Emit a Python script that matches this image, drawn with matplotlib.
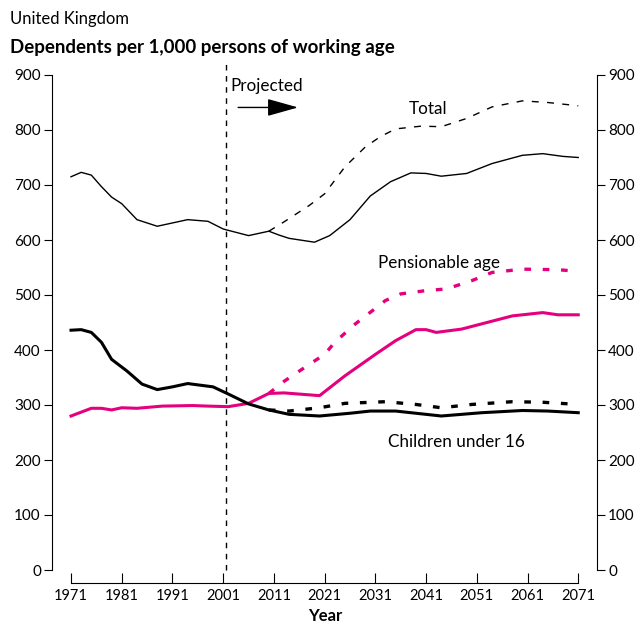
import matplotlib
matplotlib.use("Agg")
import matplotlib.pyplot as plt

plt.rcParams['font.family'] = ['Lato', 'DejaVu Sans']
plt.rcParams['font.size'] = 12

magenta = '#e5007d'

# Total, projected variant 1 (solid) and 2 (dashed)
total_years = [1971, 1973, 1975, 1977, 1979, 1981, 1984, 1988, 1991, 1994, 1998, 2001, 2006,
               2010, 2012, 2014, 2019, 2022, 2026, 2030, 2034, 2038, 2041, 2044, 2049, 2054,
               2060, 2064, 2068, 2071]
total_vals = [715, 723, 718, 697, 678, 666, 637, 625, 631, 637, 634, 620, 608,
              616, 609, 603, 596, 608, 637, 680, 706, 722, 721, 716, 721, 739,
              754, 757, 752, 750]
total_dash_years = [2010, 2013, 2018, 2021, 2025, 2029, 2032, 2035, 2040, 2044, 2049, 2054,
                    2060, 2065, 2071]
total_dash_vals = [616, 633, 663, 684, 733, 769, 788, 802, 807, 806, 821, 842,
                   853, 850, 844]

# Pensionable age
pens_years = [1971, 1975, 1977, 1979, 1981, 1984, 1989, 1995, 1998, 2002, 2006, 2010, 2013,
              2020, 2025, 2031, 2035, 2039, 2041, 2043, 2048, 2053, 2058, 2064, 2067, 2071]
pens_vals = [280, 294, 294, 291, 295, 294, 298, 299, 298, 297, 303, 321, 322,
             317, 353, 392, 417, 437, 437, 432, 438, 450, 462, 468, 464, 464]
pens_dash_years = [2010, 2013, 2018, 2021, 2023, 2027, 2033, 2036, 2041, 2045, 2050, 2054,
                   2060, 2067, 2071]
pens_dash_vals = [321, 343, 374, 392, 414, 447, 490, 502, 508, 511, 526, 541,
                  547, 546, 543]

# Children under 16
child_years = [1971, 1973, 1975, 1977, 1979, 1982, 1985, 1988, 1991, 1994, 1999, 2002, 2006,
               2010, 2014, 2020, 2026, 2030, 2035, 2044, 2052, 2060, 2065, 2071]
child_vals = [436, 437, 432, 414, 383, 362, 338, 328, 333, 339, 333, 320, 302,
              291, 283, 280, 285, 289, 289, 280, 286, 290, 289, 286]
child_dash_years = [2010, 2014, 2020, 2025, 2033, 2039, 2044, 2050, 2058, 2064, 2071]
child_dash_vals = [291, 289, 295, 303, 306, 301, 295, 301, 306, 305, 301]

xticks = list(range(1971, 2072, 10))
yticks = list(range(0, 901, 100))

fig = plt.figure(figsize=(6.37, 6.24), dpi=100)
ax = fig.add_axes([52 / 637, 54 / 624, 545 / 637, 495 / 624])

ax.plot(total_years, total_vals, color='black', lw=1.0)
ax.plot(total_dash_years, total_dash_vals, color='black', lw=1.0, dashes=(5, 6))
ax.plot(pens_years, pens_vals, color=magenta, lw=2.2)
ax.plot(pens_dash_years, pens_dash_vals, color=magenta, lw=2.4, dashes=(2, 3.5))
ax.plot(child_years, child_vals, color='black', lw=2.2)
ax.plot(child_dash_years, child_dash_vals, color='black', lw=2.4, dashes=(2, 3.5))

# projection start marker
ax.plot([2001.6, 2001.6], [0, 925], color='black', lw=1.0, dashes=(4, 4), clip_on=False)
ax.text(2002.4, 880, 'Projected', ha='left', va='center', fontsize=12.3)
ax.annotate('', xy=(2016.3, 841), xytext=(2003.4, 841),
            arrowprops=dict(arrowstyle='-|>,head_length=1.6,head_width=0.45',
                            color='black', lw=1.0))

ax.text(2037.5, 839, 'Total', ha='left', va='center', fontsize=12.3)
ax.text(2031.6, 558, 'Pensionable age', ha='left', va='center', fontsize=12.3)
ax.text(2033.5, 232, 'Children under 16', ha='left', va='center', fontsize=12.3)

ax.set_xlim(1967.25, 2074.7)
ax.set_ylim(0, 900)
ax.set_xticks(xticks)
ax.set_yticks(yticks)

ax.spines['top'].set_visible(False)
ax.spines['bottom'].set_position(('outward', 9))
ax.spines['bottom'].set_bounds(1971, 2071)
ax.tick_params(axis='x', direction='in', length=7, pad=5, labelsize=10.5)
ax.tick_params(axis='y', direction='out', length=6, pad=2, labelsize=11,
               right=True, labelright=True)

fig.text(10 / 637, 1 - 19 / 624, 'United Kingdom', ha='left', va='center', fontsize=12)
fig.text(10 / 637, 1 - 47 / 624, 'Dependents per 1,000 persons of working age',
         ha='left', va='center', fontsize=13.5, fontweight='bold')
fig.text(325 / 637, 1 - 616 / 624, 'Year', ha='center', va='center',
         fontsize=12, fontweight='bold')

fig.savefig('out.png', dpi=100)
